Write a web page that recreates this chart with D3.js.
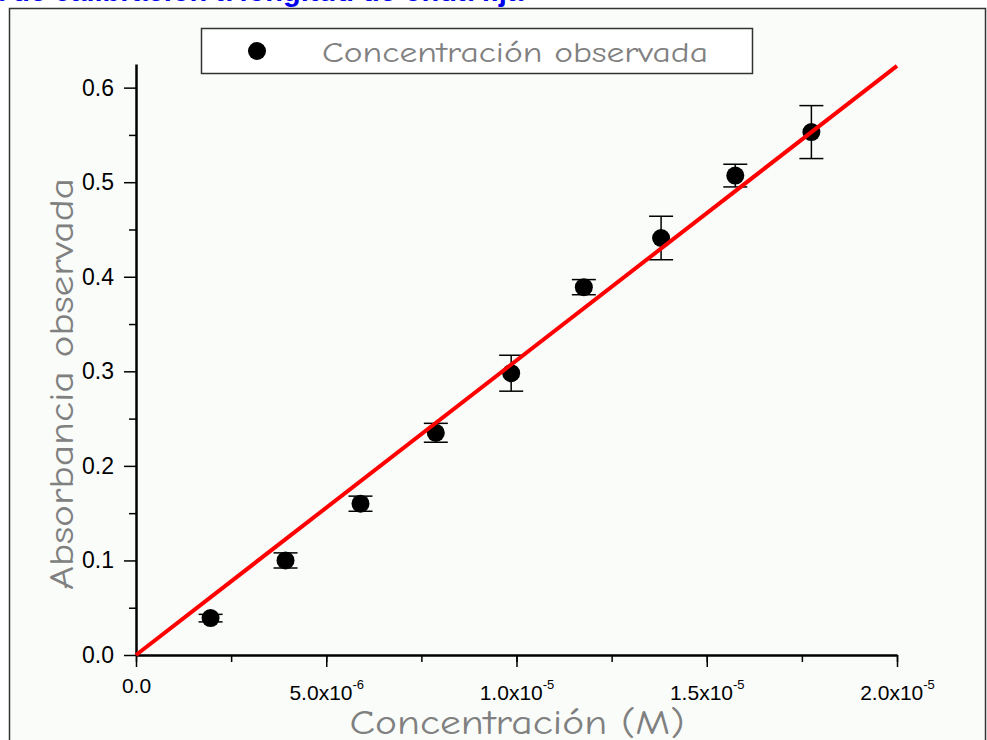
<!DOCTYPE html>
<html>
<head>
<meta charset="utf-8">
<script src="https://cdn.jsdelivr.net/npm/d3@7"></script>
<style>
  body { margin: 0; background: #fff; }
  svg { display: block; }
</style>
</head>
<body>
<div id="chart"></div>
<script>
// concentration (M) and observed absorbance, with error bars
const concentracion = [1.96e-6, 3.93e-6, 5.90e-6, 7.88e-6, 9.86e-6, 1.177e-5, 1.38e-5, 1.575e-5, 1.775e-5];
const absorbancia = [0.039, 0.100, 0.160, 0.235, 0.298, 0.389, 0.441, 0.507, 0.553];
const errores = [0.004, 0.008, 0.008, 0.010, 0.019, 0.008, 0.023, 0.012, 0.028];

// linear fit endpoints
const ajusteX = [0, 2.0e-5];
const ajusteY = [0, 0.623];

const xTicks = [0, 5e-6, 1e-5, 1.5e-5, 2e-5];
const xTickLabels = [["0.0", ""], ["5.0x10", "-6"], ["1.0x10", "-5"], ["1.5x10", "-5"], ["2.0x10", "-5"]];
const yTicks = [0, 0.1, 0.2, 0.3, 0.4, 0.5, 0.6];

const encabezado = "Curva de calibración a longitud de onda fija";

const W = 987, H = 740;
const svg = d3.select("#chart").append("svg")
  .attr("width", W)
  .attr("height", H);

// page header text, mostly cut off at the top
const header = svg.append("text")
  .attr("x", 0)
  .attr("y", 0.5)
  .attr("fill", "#0000ee")
  .attr("font-family", "Liberation Sans, Arial, sans-serif")
  .attr("font-weight", "bold")
  .attr("font-size", "29px")
  .text(encabezado);
// line up the "g" of "longitud" with the reference
const gPos = header.node().getSubStringLength(0, encabezado.indexOf("longitud") + 3);
header.attr("x", 283 - gPos);

// frame
svg.append("rect")
  .attr("x", 9.5)
  .attr("y", 8.5)
  .attr("width", 976)
  .attr("height", 760)
  .attr("fill", "#fafcfa")
  .attr("stroke", "#333")
  .attr("stroke-width", 1.5);

const x = d3.scaleLinear().domain([0, 2e-5]).range([136, 897]);
const y = d3.scaleLinear().domain([0, 0.625]).range([655, 64]);

// minor ticks
svg.append("g")
  .attr("transform", "translate(0,655)")
  .call(d3.axisBottom(x).tickValues(d3.range(0, 2.01e-5, 2.5e-6)).tickSize(7).tickFormat(""))
  .call(g => g.select(".domain").remove())
  .call(g => g.selectAll("line").attr("stroke", "#000").attr("stroke-width", 1.5));

svg.append("g")
  .attr("transform", "translate(136,0)")
  .call(d3.axisLeft(y).tickValues(d3.range(0.05, 0.6, 0.1)).tickSize(7).tickFormat(""))
  .call(g => g.select(".domain").remove())
  .call(g => g.selectAll("line").attr("stroke", "#000").attr("stroke-width", 1.5));

// major x axis
const xAxis = svg.append("g")
  .attr("transform", "translate(0,655)")
  .call(d3.axisBottom(x).tickValues(xTicks).tickSize(12).tickSizeOuter(0).tickFormat(""));
xAxis.select(".domain").attr("stroke", "#000").attr("stroke-width", 2.5);
xAxis.selectAll("line").attr("stroke", "#000").attr("stroke-width", 1.5);
xAxis.selectAll(".tick").each(function (d, i) {
  const t = d3.select(this).append("text")
    .attr("fill", "#000")
    .attr("font-family", "Liberation Sans, Arial, sans-serif")
    .attr("font-size", "21px")
    .attr("text-anchor", "middle")
    .attr("y", i === 0 ? 38 : 45);
  t.append("tspan").text(xTickLabels[i][0]);
  if (xTickLabels[i][1]) {
    t.append("tspan")
      .attr("dy", -11)
      .attr("font-size", "13px")
      .text(xTickLabels[i][1]);
  }
});

// major y axis
const yAxis = svg.append("g")
  .attr("transform", "translate(136,0)")
  .call(d3.axisLeft(y).tickValues(yTicks).tickSize(12).tickSizeOuter(0).tickPadding(10).tickFormat(d3.format(".1f")));
yAxis.select(".domain").attr("stroke", "#000").attr("stroke-width", 2.5);
yAxis.selectAll("line").attr("stroke", "#000").attr("stroke-width", 1.5);
yAxis.selectAll("text")
  .attr("fill", "#000")
  .attr("font-family", "Liberation Sans, Arial, sans-serif")
  .attr("font-size", "23px");

// axis titles
const tituloFont = "Comic Sans MS, Comic Neue, Lato, sans-serif";
svg.append("text")
  .attr("transform", "translate(73,384) rotate(-90)")
  .attr("text-anchor", "middle")
  .attr("fill", "#808080")
  .attr("font-family", tituloFont)
  .attr("font-size", "34px")
  .attr("textLength", 412)
  .attr("lengthAdjust", "spacingAndGlyphs")
  .text("Absorbancia observada");

svg.append("text")
  .attr("x", 517)
  .attr("y", 734)
  .attr("text-anchor", "middle")
  .attr("fill", "#808080")
  .attr("font-family", tituloFont)
  .attr("font-size", "34px")
  .attr("textLength", 335)
  .attr("lengthAdjust", "spacingAndGlyphs")
  .text("Concentración (M)");

// error bars
const eb = svg.append("g").attr("stroke", "#000").attr("stroke-width", 1.5);
concentracion.forEach((c, i) => {
  const cx = x(c);
  const lo = y(absorbancia[i] - errores[i]);
  const hi = y(absorbancia[i] + errores[i]);
  eb.append("line").attr("x1", cx).attr("x2", cx).attr("y1", lo).attr("y2", hi);
  eb.append("line").attr("x1", cx - 12).attr("x2", cx + 12).attr("y1", lo).attr("y2", lo);
  eb.append("line").attr("x1", cx - 12).attr("x2", cx + 12).attr("y1", hi).attr("y2", hi);
});

// points
svg.append("g")
  .selectAll("circle")
  .data(concentracion)
  .enter()
  .append("circle")
  .attr("cx", d => x(d))
  .attr("cy", (d, i) => y(absorbancia[i]))
  .attr("r", 9)
  .attr("fill", "#000");

// fit line
const fit = ajusteX.map((v, i) => [v, ajusteY[i]]);
svg.append("path")
  .datum(fit)
  .attr("fill", "none")
  .attr("stroke", "#ff0000")
  .attr("stroke-width", 4)
  .attr("d", d3.line().x(d => x(d[0])).y(d => y(d[1])));

// legend
const legend = svg.append("g");
legend.append("rect")
  .attr("x", 201.5)
  .attr("y", 28.5)
  .attr("width", 551)
  .attr("height", 45)
  .attr("fill", "#fff")
  .attr("stroke", "#333")
  .attr("stroke-width", 1.5);
legend.append("circle")
  .attr("cx", 257)
  .attr("cy", 51)
  .attr("r", 9)
  .attr("fill", "#000");
legend.append("text")
  .attr("x", 322)
  .attr("y", 62)
  .attr("fill", "#808080")
  .attr("font-family", tituloFont)
  .attr("font-size", "29px")
  .attr("textLength", 386)
  .attr("lengthAdjust", "spacingAndGlyphs")
  .text("Concentración observada");
</script>
</body>
</html>
